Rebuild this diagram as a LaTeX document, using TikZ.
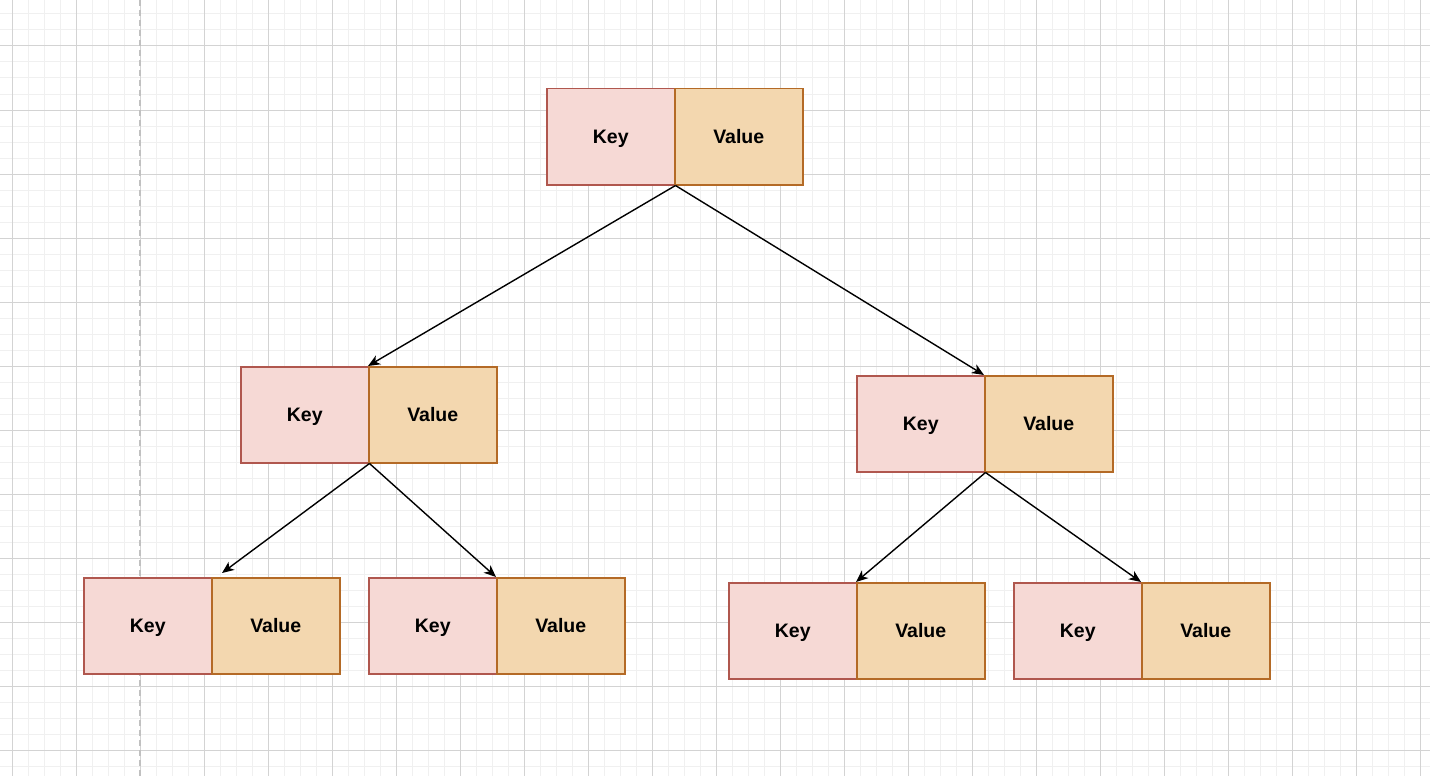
\documentclass[tikz,border=0pt]{standalone}
\usepackage{fontspec}
\setmainfont{Liberation Sans}
\usetikzlibrary{arrows.meta}
\definecolor{keyfill}{HTML}{F6D9D5}
\definecolor{keydraw}{HTML}{B0574E}
\definecolor{valfill}{HTML}{F3D7AF}
\definecolor{valdraw}{HTML}{B46A26}
\definecolor{gridminor}{HTML}{F0F0F0}
\definecolor{gridmajor}{HTML}{D3D3D3}
\definecolor{guide}{HTML}{C0C0C0}
\tikzset{
  kbox/.style={draw=keydraw, fill=keyfill, line width=1.5pt, minimum width=128pt, minimum height=96pt, inner sep=0pt, text height=14pt, text depth=0pt, font=\bfseries\fontsize{19.5}{22}\selectfont, anchor=north west},
  vbox/.style={kbox, draw=valdraw, fill=valfill},
  link/.style={line width=1.4pt, -{Stealth[length=12pt,width=10pt,inset=3.5pt]}},
  minorline/.style={gridminor, line width=1pt},
  majorline/.style={gridmajor, line width=1pt},
  guideline/.style={guide, line width=1.6pt, dash pattern=on 6pt off 4pt}
}
\begin{document}
\begin{tikzpicture}[x=1pt,y=-1pt]
\useasboundingbox (0,0) rectangle (1430,776);
\fill[white] (0,0) rectangle (1430,776);
\foreach \x in {12,28,...,1430} \draw[minorline] (\x,0) -- (\x,776);
\foreach \y in {14,30,...,776} \draw[minorline] (0,\y) -- (1430,\y);
\foreach \x in {12,76,...,1430} \draw[majorline] (\x,0) -- (\x,776);
\foreach \y in {46,110,...,776} \draw[majorline] (0,\y) -- (1430,\y);
\draw[guideline] (140,0) -- (140,776);

\node[kbox] (tk) at (546,88) {Key};
\node[vbox] (tv) at (674,88) {Value};

\node[kbox] (mlk) at (240,366) {Key};
\node[vbox] (mlv) at (368,366) {Value};

\node[kbox] (mrk) at (856,375) {Key};
\node[vbox] (mrv) at (984,375) {Value};

\node[kbox] (llk) at (83,577) {Key};
\node[vbox] (llv) at (211,577) {Value};

\node[kbox] (lrk) at (368,577) {Key};
\node[vbox] (lrv) at (496,577) {Value};

\node[kbox] (rlk) at (728,582) {Key};
\node[vbox] (rlv) at (856,582) {Value};

\node[kbox] (rrk) at (1013,582) {Key};
\node[vbox] (rrv) at (1141,582) {Value};

\coordinate (llt) at (222,573);

\draw[link] (tk.south east) -- (mlv.north west);
\draw[link] (tk.south east) -- (mrv.north west);
\draw[link] (mlk.south east) -- (llt);
\draw[link] (mlk.south east) -- (lrv.north west);
\draw[link] (mrk.south east) -- (rlv.north west);
\draw[link] (mrk.south east) -- (rrv.north west);
\end{tikzpicture}
\end{document}
